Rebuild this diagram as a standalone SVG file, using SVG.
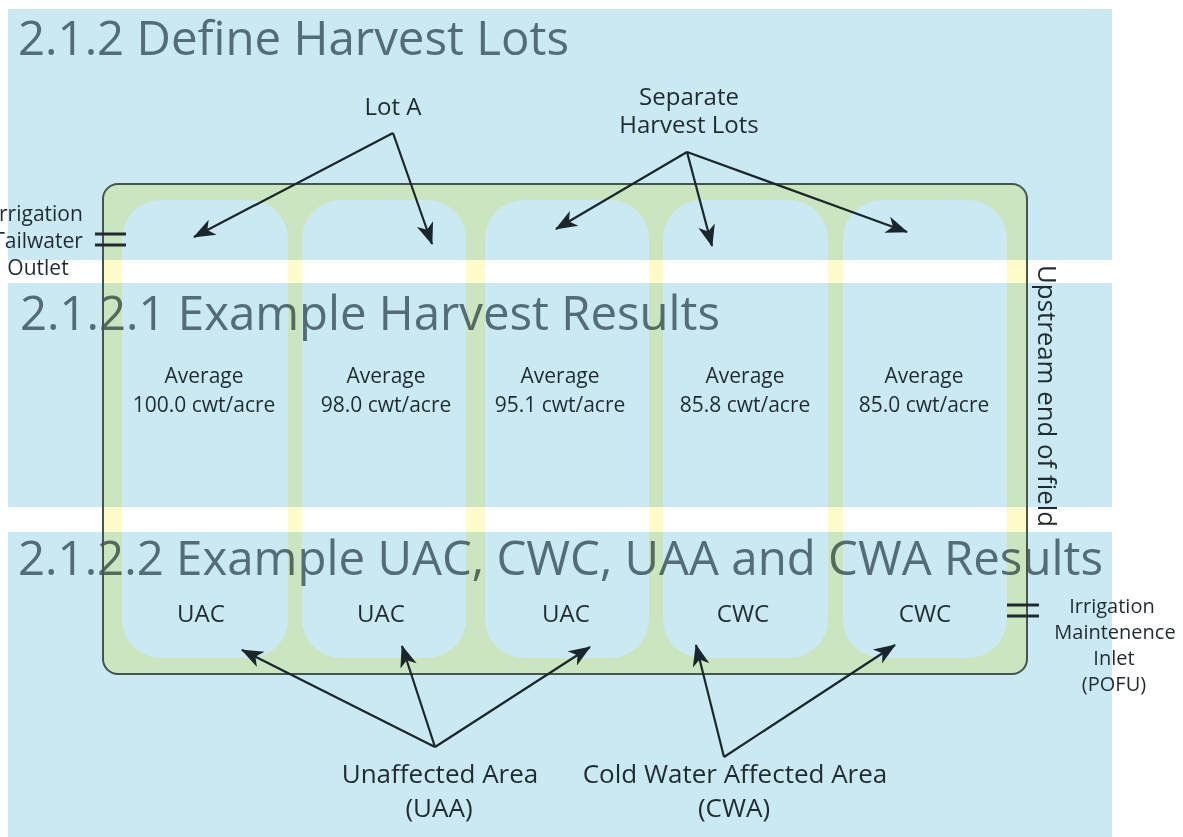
<svg xmlns="http://www.w3.org/2000/svg" width="1183" height="837" viewBox="0 0 1183 837">
  <defs>
    <style>
      .band { fill: #cbe9f2; }
      .head { font-family: "Open Sans", "Noto Sans", sans-serif; font-size: 48px; fill: #536c75; }
      .lbl { font-family: "Open Sans", "Noto Sans", sans-serif; fill: #1f2b30; text-anchor: middle; }
      .avg { font-size: 21px; }
      .code { font-size: 24px; }
      .big { font-size: 24px; }
      .area { font-size: 26px; }
      .side { font-size: 20px; }
      .left { font-size: 21px; }
      .field { fill: #fffbcb; fill-rule: evenodd; mix-blend-mode: multiply; }
      .border { fill: none; stroke: #44544f; stroke-width: 2; }
      .arrow { fill: none; stroke: #1a262b; stroke-width: 2.2; marker-end: url(#ah); }
      .eq { stroke: #1f2b30; stroke-width: 3; }
    </style>
    <marker id="ah" markerUnits="userSpaceOnUse" markerWidth="26" markerHeight="22" viewBox="-23 -11 26 22" refX="0" refY="0" orient="auto">
      <path d="M1,0 L-21,-8.5 L-15,0 L-21,8.5 Z" fill="#1a262b"/>
    </marker>
  </defs>

  <rect width="1183" height="837" fill="#ffffff"/>

  <g id="bands">
    <rect class="band" x="8" y="9" width="1104" height="251"/>
    <rect class="band" x="8" y="283" width="1104" height="224"/>
    <rect class="band" x="8" y="532" width="1104" height="305"/>
  </g>

  <g id="headings">
    <text class="head" x="18" y="55" textLength="551" lengthAdjust="spacingAndGlyphs">2.1.2 Define Harvest Lots</text>
    <text class="head" x="20" y="330" textLength="700" lengthAdjust="spacingAndGlyphs">2.1.2.1 Example Harvest Results</text>
    <text class="head" x="18" y="575" textLength="1085" lengthAdjust="spacingAndGlyphs">2.1.2.2 Example UAC, CWC, UAA and CWA Results</text>
  </g>

  <g id="field">
    <path class="field" d="M118,184 H1012 A15 15 0 0 1 1027,199 V659 A15 15 0 0 1 1012,674 H118 A15 15 0 0 1 103,659 V199 A15 15 0 0 1 118,184 Z
      M161,200 H249 A39 39 0 0 1 288,239 V619 A39 39 0 0 1 249,658 H161 A39 39 0 0 1 122,619 V239 A39 39 0 0 1 161,200 Z
      M341,200 H427 A39 39 0 0 1 466,239 V619 A39 39 0 0 1 427,658 H341 A39 39 0 0 1 302,619 V239 A39 39 0 0 1 341,200 Z
      M524,200 H610 A39 39 0 0 1 649,239 V619 A39 39 0 0 1 610,658 H524 A39 39 0 0 1 485,619 V239 A39 39 0 0 1 524,200 Z
      M702,200 H789 A39 39 0 0 1 828,239 V619 A39 39 0 0 1 789,658 H702 A39 39 0 0 1 663,619 V239 A39 39 0 0 1 702,200 Z
      M882,200 H968 A39 39 0 0 1 1007,239 V619 A39 39 0 0 1 968,658 H882 A39 39 0 0 1 843,619 V239 A39 39 0 0 1 882,200 Z"/>
    <path class="border" d="M118,184 H1012 A15 15 0 0 1 1027,199 V659 A15 15 0 0 1 1012,674 H118 A15 15 0 0 1 103,659 V199 A15 15 0 0 1 118,184 Z"/>
  </g>

  <g id="lot1">
    <text class="lbl avg" x="204" y="383">Average</text>
    <text class="lbl avg" x="204" y="412">100.0 cwt/acre</text>
    <text class="lbl code" x="201" y="622">UAC</text>
  </g>
  <g id="lot2">
    <text class="lbl avg" x="386" y="383">Average</text>
    <text class="lbl avg" x="386" y="412">98.0 cwt/acre</text>
    <text class="lbl code" x="381" y="622">UAC</text>
  </g>
  <g id="lot3">
    <text class="lbl avg" x="560" y="383">Average</text>
    <text class="lbl avg" x="560" y="412">95.1 cwt/acre</text>
    <text class="lbl code" x="566" y="622">UAC</text>
  </g>
  <g id="lot4">
    <text class="lbl avg" x="745" y="383">Average</text>
    <text class="lbl avg" x="745" y="412">85.8 cwt/acre</text>
    <text class="lbl code" x="743" y="622">CWC</text>
  </g>
  <g id="lot5">
    <text class="lbl avg" x="924" y="383">Average</text>
    <text class="lbl avg" x="924" y="412">85.0 cwt/acre</text>
    <text class="lbl code" x="925" y="622">CWC</text>
  </g>

  <g id="lot-a-label">
    <text class="lbl big" x="393" y="115">Lot A</text>
  </g>
  <g id="separate-label">
    <text class="lbl big" x="689" y="105">Separate</text>
    <text class="lbl big" x="689" y="133">Harvest Lots</text>
  </g>
  <g id="tailwater-outlet">
    <text class="lbl left" x="38" y="221">Irrigation</text>
    <text class="lbl left" x="38" y="248">Tailwater</text>
    <text class="lbl left" x="38" y="275">Outlet</text>
    <line class="eq" x1="95" y1="234" x2="126" y2="234"/>
    <line class="eq" x1="95" y1="245" x2="126" y2="245"/>
  </g>
  <g id="maintenance-inlet">
    <line class="eq" x1="1007" y1="605" x2="1039" y2="605"/>
    <line class="eq" x1="1007" y1="616" x2="1039" y2="616"/>
    <text class="lbl side" x="1112" y="613">Irrigation</text>
    <text class="lbl side" x="1115" y="639">Maintenence</text>
    <text class="lbl side" x="1114" y="665">Inlet</text>
    <text class="lbl side" x="1114" y="691">(POFU)</text>
  </g>
  <g id="upstream-label">
    <text class="lbl" style="font-size:25px;text-anchor:start" transform="translate(1038,265) rotate(90)" textLength="262" lengthAdjust="spacingAndGlyphs">Upstream end of field</text>
  </g>
  <g id="uaa-label">
    <text class="lbl area" x="440" y="783">Unaffected Area</text>
    <text class="lbl area" x="439" y="817">(UAA)</text>
  </g>
  <g id="cwa-label">
    <text class="lbl area" x="735" y="783">Cold Water Affected Area</text>
    <text class="lbl area" x="734" y="817">(CWA)</text>
  </g>

  <g id="connectors">
    <path class="arrow" d="M393,133 L194,237"/>
    <path class="arrow" d="M393,133 L432,244"/>
    <path class="arrow" d="M687,152 L556,229"/>
    <path class="arrow" d="M687,152 L712,246"/>
    <path class="arrow" d="M687,152 L907,232"/>
    <path class="arrow" d="M435,747 L242,650"/>
    <path class="arrow" d="M435,747 L402,646"/>
    <path class="arrow" d="M435,747 L590,647"/>
    <path class="arrow" d="M724,757 L696,645"/>
    <path class="arrow" d="M724,757 L895,645"/>
  </g>
</svg>
